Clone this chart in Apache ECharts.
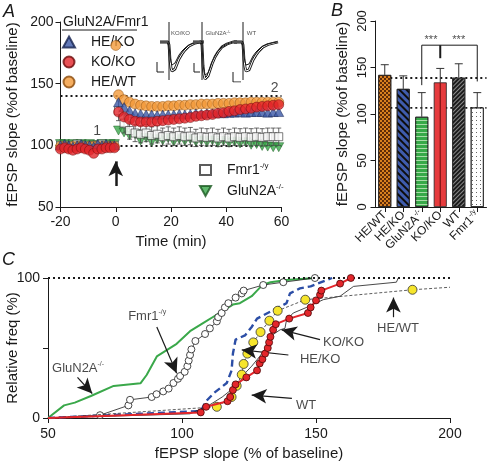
<!DOCTYPE html>
<html><head><meta charset="utf-8">
<script src="https://cdn.jsdelivr.net/npm/echarts@6/dist/echarts.min.js"></script>
<style>html,body{margin:0;padding:0;background:#fff}#c{width:487px;height:462px}</style>
</head><body><div id="c"></div>
<script>
// ---------- Panel A: time course ----------
const timeBase = [-20,-18.5,-17,-15.5,-14,-12.5,-11,-9.5,-8,-6.5,-5,-3.5,-2,-0.5];
const timePost = [1,3,5,7,9,11,13,15,17,19,21,23,25,27,29,31,33,35,37,39,41,43,45,47,49,51,53,55,57,59];
const gluBase = [101,101,100,101,100,101,100,101,100,100,101,100,101,101];
const gluPost = [112,110.5,108,109,104,106,103,105,104,106,103,105,103.5,105,103,104,102.5,104,102,103.5,102,103,101.5,102.5,100.5,101,99.5,99,98.5,98.5];
const fmrBase = [100,100,99,100,101,100,100,99,100,100,101,100,100,100];
const fmrPost = [128,118,112,110,109,110,108,109,107,108,107,108,107,107.5,106,107,106.5,107,106,107,106,107,106.5,107,106.5,107,106.5,107,107,107];
const fmrErrBase = [2,2,2,2,2,2,2,2,2,2,2,2,2,2];
const fmrErrPost = [8,8,7,7,7,7,7,7,7,7,7,7,7,7,7,7,7,7,7,7,7,7,7,7,7,7,7,7,7,7];
const heWtBase = [99,99,98,99,99,99,98,99,99,99,99,99,99,99];
const heWtStimTime = [0];
const heWtStim = [181];
const heWtPost = [141,137,135,133.5,132.5,132,131.5,131.5,131.5,132,132,132.5,132.5,133,133,133.5,133.5,133.5,134,134,134,134.5,134.5,134.5,135,135,135,135,135,135];
const heKoBase = [100,101,100,99,100,101,100,100,99,101,100,101,100,100];
const heKoPost = [135,131,128,126,125.5,125,125,124.5,125,125,125,125.5,125,125.5,126,125.5,126,126,126.5,126,126.5,126.5,127,126.5,127,127,127,126.5,127,127];
const koKoBase = [97,98,97,96,97,98,97,96,93.5,97,97,98,98,98];
const koKoPost = [127,123,121,119.5,119,119,119,119.5,120,120.5,121,121.5,122,122.5,123.5,124,124.5,125,126,126.5,127.5,128,129,129.5,130,131,131.5,132,132.5,133];
const refLinesA = [100,140];

// inset traces (relative time, amplitude)
const trT = [-9,-1,0,0.5,1,2,3,4,5,6,8,10,13,16,20,25,31,35];
const trKoPre  = [0,0,-2,-8,-14,-20,-23,-24,-23,-21,-17,-13,-9,-6,-3,-1,0,0];
const trKoPost = [0,0,-3,-10,-18,-26,-29,-30,-29,-27,-22,-17,-12,-8,-4,-1.5,0,0];
const trGluPre  = [0,0,-3,-12,-22,-30,-33,-34,-33,-31,-26,-20,-14,-9,-5,-2,0,0];
const trGluPost = [0,0,-3,-13,-24,-33,-37,-38,-37,-34,-28,-22,-15,-10,-5,-2,0,0];
const trWtPre  = [0,0,-2,-8,-14,-20,-23,-24,-24,-22,-18,-14,-10,-7,-4,-2,-0.5,0];
const trWtPost = [0,0,-3,-10,-18,-25,-29,-30,-30,-28,-23,-18,-13,-9,-5,-2.5,-1,0];

// ---------- Panel B: bars ----------
const barCats = ['HE/WT','HE/KO','GluN2A','KO/KO','WT','Fmr1'];
const barSup  = ['','','-/-','','','-/y'];
const barMeans = [142,127,97,134,139,107];
const barErrs  = [11,14,26,15,15,16];
const barRefLines = [138.7,106.5];

// ---------- Panel C: cumulative distributions ----------
const cdfGlu = [[50,0],[56,9],[60,11],[66,15.7],[74.5,22.9],[84.5,24.8],[86.8,30.7],[90.6,44],[98,53],[103,62],[108,68],[114,75],[119,81],[121.6,82],[126,87],[128,91],[130,95],[133,97],[139,98.6],[149.6,100]];
const cdfFmr = [[50,0],[69.4,2],[80,9],[80.6,13],[88.7,15],[90.5,17],[93,19],[95,21],[96.8,25],[98.5,28],[99.3,30],[101,33],[102,37],[102.5,41],[103,45],[103.5,49],[105,55],[108.6,60],[110.4,64],[113,69],[113.5,72],[114.8,75],[116,79],[117.3,82],[120,86],[122.3,89],[123,91],[130.3,95],[137.8,97],[149.6,100]];
const cdfHeKo = [[50,0],[107,5],[109,12],[112,18],[116.7,25],[118.5,34],[119,46],[120,56],[123.5,59],[126,65],[128,71],[134,77],[139,82],[140.3,89],[144,92.6],[148,94],[156,100]];
const cdfWt = [[50,0],[103,3],[110,9],[115,15],[121.6,25],[123.5,32],[126,37],[129,44],[131.6,51],[133.5,59],[136.6,63],[138.4,64],[139,70],[141.5,75],[146.5,79],[152.7,84.5],[159,87],[164,94],[180,97],[180.7,100]];
const cdfKoKo = [[50,0],[107,4],[109,8],[117,12],[118,15],[119,20],[120,24],[124,29],[128,34],[129,39],[130,42],[131,46],[132,50],[132.5,54],[133,58],[134,63],[135,67],[140,71],[147,75],[148,79],[150,84],[151.5,88],[152,91],[159,96],[163,100]];
const cdfHeWt = [[50,0],[113,8],[118.5,15],[120.4,23],[122.3,31],[123,38.6],[124.4,46],[126.6,54],[129.3,61.4],[132.6,69.5],[135.7,76.6],[146,84.5],[186,91.6],[200,93.4]];

const F = "'Liberation Sans', Arial, sans-serif";
const BLACK = '#1a1a1a';
const tri = 'path://M5,0 L10,9 L0,9 Z';
const triDown = 'path://M0,0 L10,0 L5,9 Z';
function pairs(t, v){ return t.map((x,i)=>[x, v[i]]); }
function ax(o){
  return Object.assign({
    type:'value', splitLine:{show:false}, nameMoveOverlap:false,
    axisLine:{show:true, onZero:false, lineStyle:{color:BLACK, width:1}},
    axisTick:{show:true, length:5, lineStyle:{color:BLACK, width:1}},
    axisLabel:{color:BLACK, fontSize:14, fontFamily:F},
    nameTextStyle:{color:BLACK, fontSize:15, fontFamily:F}
  }, o);
}
function hidden(grid, min, max){ return {type:'value', gridIndex:grid, min:min, max:max, show:false}; }
function grid(l, t, w, h){ return {left:l, top:t, width:w, height:h, containLabel:false, outerBoundsMode:'none'}; }
const supRich = { n:{fontSize:14, fontFamily:F, color:BLACK, lineHeight:16}, s:{fontSize:8, fontFamily:F, color:BLACK, lineHeight:8, verticalAlign:'top'} };

const chart = echarts.init(document.getElementById('c'));

function errA(name, t, v, e){
  return {type:'custom', name:name, xAxisIndex:0, yAxisIndex:0, z:3,
    data: t.map((x,i)=>[x, v[i], e[i]]),
    renderItem:function(p, api){
      const x=api.value(0), m=api.value(1), er=api.value(2);
      const a=api.coord([x,m-er]), b=api.coord([x,m+er]);
      return {type:'group', children:[
        {type:'line', shape:{x1:a[0],y1:a[1],x2:b[0],y2:b[1]}, style:{stroke:'#444', lineWidth:0.8}},
        {type:'line', shape:{x1:a[0]-2.5,y1:a[1],x2:a[0]+2.5,y2:a[1]}, style:{stroke:'#444', lineWidth:0.8}},
        {type:'line', shape:{x1:b[0]-2.5,y1:b[1],x2:b[0]+2.5,y2:b[1]}, style:{stroke:'#444', lineWidth:0.8}}
      ]};
    }};
}

function inset(k, pre, post, bar, lbl){
  const xi = 4+k, yi = 3+k;
  const base = {type:'line', xAxisIndex:xi, yAxisIndex:yi, symbol:'none', silent:true, animation:false};
  return [
    Object.assign({}, base, {data:pairs(trT, post), lineStyle:{color:BLACK, width:2.8}}),
    Object.assign({}, base, {data:pairs(trT, post), lineStyle:{color:'#fff', width:1}}),
    Object.assign({}, base, {data:pairs(trT, pre), lineStyle:{color:BLACK, width:1}}),
    Object.assign({}, base, {data:[[0,20],[0,-38]], lineStyle:{color:BLACK, width:1}}),
    Object.assign({}, base, {data:bar, lineStyle:{color:BLACK, width:1}}),
    {type:'scatter', xAxisIndex:xi, yAxisIndex:yi, symbolSize:0, silent:true, data:[lbl],
     label:{show:true, position:'inside', formatter:'{b}', fontSize:6, fontFamily:F, color:BLACK,
            rich:{s:{fontSize:4, fontFamily:F, verticalAlign:'top', lineHeight:4}}}}
  ];
}

const barStyles = [
  {color:'#d8801f', decal:{symbol:'rect', symbolSize:1, dashArrayX:[[2,2],[0,2,2,0]], dashArrayY:[2,0], color:'#5e2a08'}},
  {color:'#3f5cad', decal:{symbol:'rect', symbolSize:1, dashArrayX:[1,0], dashArrayY:[2,3], rotation:Math.PI/4, color:'#0d0d0d'}},
  {color:'#37a948', decal:{symbol:'rect', symbolSize:1, dashArrayX:[1,0], dashArrayY:[1,3], rotation:0, color:'#a9dca8'}},
  {color:'#e63b3d'},
  {color:'#1c1c1c', decal:{symbol:'rect', symbolSize:1, dashArrayX:[1,0], dashArrayY:[1,2], rotation:-Math.PI/4, color:'#8a8a8a'}},
  {color:'#ffffff', decal:{symbol:'rect', symbolSize:1, dashArrayX:[1,3], dashArrayY:[1,3], color:'#666'}}
];

const arrowLine = {lineStyle:{color:BLACK, width:1.2, type:'solid'}};
function arrow(a, b){ return [{coord:a, symbol:'none'}, {coord:b, symbol:'arrow', symbolSize:[11,15]}]; }

const option = {
  animation:false,
  textStyle:{fontFamily:F},
  grid:[
    grid(60.5, 22, 221, 185),
    grid(375.5, 21, 111, 186),
    grid(48, 278, 402, 140),
    grid(157, 20, 47, 62),
    grid(190, 20, 47, 62),
    grid(231, 20, 47, 62)
  ],
  xAxis:[
    ax({gridIndex:0, min:-20, max:60, interval:20, name:'Time (min)', nameLocation:'middle', nameGap:27, axisLabel:{color:BLACK, fontSize:14, fontFamily:F, margin:8}}),
    {type:'category', gridIndex:1, data:barCats, boundaryGap:true,
     axisLine:{show:true, lineStyle:{color:BLACK}}, axisTick:{show:true, alignWithLabel:true, length:5, lineStyle:{color:BLACK}},
     axisLabel:{rotate:45, margin:6, interval:0, formatter:function(v,i){ return '{n|'+v+'}' + (barSup[i] ? '{s|'+barSup[i]+'}' : ''); },
       rich:{n:{fontSize:12, fontFamily:F, color:BLACK, lineHeight:14}, s:{fontSize:7, fontFamily:F, color:BLACK, lineHeight:7, verticalAlign:'top'}}}},
    hidden(1, -0.5, 5.5),
    ax({gridIndex:2, min:50, max:200, interval:50, name:'fEPSP slope (% of baseline)', nameLocation:'middle', nameGap:28, axisLabel:{color:BLACK, fontSize:14, fontFamily:F, margin:9}}),
    hidden(3, -12, 35), hidden(4, -12, 35), hidden(5, -12, 35)
  ],
  yAxis:[
    ax({gridIndex:0, min:50, max:200, interval:50, name:'fEPSP slope (%of baseline)', nameLocation:'middle', nameGap:40, axisLabel:{color:BLACK, fontSize:14, fontFamily:F, margin:7}}),
    ax({gridIndex:1, min:0, max:200, interval:50, name:'fEPSP slope (%of baseline)', nameLocation:'middle', nameGap:25, axisLabel:{color:BLACK, fontSize:13, fontFamily:F, margin:7, rotate:90}}),
    ax({gridIndex:2, min:0, max:100, interval:50, name:'Relative freq (%)', nameLocation:'middle', nameGap:28, axisLabel:{color:BLACK, fontSize:14, fontFamily:F, margin:8, formatter:function(v){return v===50?'':String(v);}}}),
    hidden(3, -40, 22), hidden(4, -40, 22), hidden(5, -40, 22)
  ],
  legend:[
    {data:['HE/KO','KO/KO','HE/WT'], orient:'vertical', left:62, top:35, itemWidth:12, itemHeight:11, itemGap:6, padding:0,
     textStyle:{fontSize:14, fontFamily:F, color:BLACK, padding:[0,0,0,11], lineHeight:14}},
    {data:['Fmr1','GluN2A'], orient:'vertical', left:199, top:162, itemWidth:11, itemHeight:10, itemGap:6, padding:0,
     formatter:function(n){ return n==='Fmr1' ? '{n|Fmr1}{s|-/y}' : '{n|GluN2A}{s|-/-}'; },
     textStyle:{fontSize:14, fontFamily:F, color:BLACK, padding:[0,0,0,11], rich:supRich}}
  ],
  graphic:[
    {type:'text', left:3, top:3, style:{text:'A', font:'italic 18px '+F, fill:BLACK}},
    {type:'text', left:331, top:2, style:{text:'B', font:'italic 18px '+F, fill:BLACK}},
    {type:'text', left:2, top:251, style:{text:'C', font:'italic 18px '+F, fill:BLACK}},
    {type:'text', left:63, top:15, style:{text:'GluN2A/Fmr1', font:'14px '+F, fill:BLACK}},
    {type:'line', shape:{x1:62, y1:30, x2:137, y2:30}, style:{stroke:BLACK, lineWidth:1}}
  ],
  series:[
    // ---- Panel A ----
    {type:'scatter', name:'GluN2A', xAxisIndex:0, yAxisIndex:0, symbol:triDown, symbolSize:[10,9], z:2,
     itemStyle:{color:'#3aa84a', borderColor:'#1b5a22', borderWidth:0.6},
     data:pairs(timeBase,gluBase).concat(pairs(timePost,gluPost)),
     markLine:{silent:true, symbol:'none', label:{show:false}, z:1,
       lineStyle:{color:BLACK, type:[2,3], width:1.8}, data:refLinesA.map(v=>({yAxis:v}))}},
    errA('fmrErr', timeBase.concat(timePost), fmrBase.concat(fmrPost), fmrErrBase.concat(fmrErrPost)),
    {type:'scatter', name:'Fmr1', xAxisIndex:0, yAxisIndex:0, symbol:'rect', symbolSize:8, z:3,
     itemStyle:{color:'#fff', borderColor:'#333', borderWidth:0.8},
     data:pairs(timeBase,fmrBase).concat(pairs(timePost,fmrPost))},
    {type:'scatter', name:'HE/WT', xAxisIndex:0, yAxisIndex:0, symbol:'circle', symbolSize:10, z:4,
     itemStyle:{color:'#f39a3a', borderColor:'#8a4a0a', borderWidth:0.6},
     data:pairs(timeBase,heWtBase).concat(pairs(heWtStimTime,heWtStim)).concat(pairs(timePost,heWtPost))},
    {type:'scatter', name:'HE/KO', xAxisIndex:0, yAxisIndex:0, symbol:tri, symbolSize:[10,9], z:5,
     itemStyle:{color:'#3b57a6', borderColor:'#15224f', borderWidth:0.6},
     data:pairs(timeBase,heKoBase).concat(pairs(timePost,heKoPost))},
    {type:'scatter', name:'KO/KO', xAxisIndex:0, yAxisIndex:0, symbol:'circle', symbolSize:10, z:6,
     itemStyle:{color:'#e4252b', borderColor:'#6a0a0a', borderWidth:0.6},
     data:pairs(timeBase,koKoBase).concat(pairs(timePost,koKoPost))},
    {type:'scatter', name:'annA', xAxisIndex:0, yAxisIndex:0, symbolSize:0, silent:true, z:7,
     data:[{name:'1', value:[-6.7,111.5]}, {name:'2', value:[57.5,146]}],
     label:{show:true, position:'inside', formatter:'{b}', fontSize:14, fontFamily:F, color:BLACK},
     markLine:{silent:true, label:{show:false}, lineStyle:{color:BLACK, width:2.5, type:'solid'},
       data:[arrow([0,67],[0,87])]}},
    // ---- Panel B ----
    {type:'line', xAxisIndex:2, yAxisIndex:1, symbol:'none', silent:true, z:1,
     data:[[0.3,barRefLines[0]],[5.5,barRefLines[0]]], lineStyle:{color:BLACK, type:[2,3], width:1.8}},
    {type:'line', xAxisIndex:2, yAxisIndex:1, symbol:'none', silent:true, z:1,
     data:[[0.3,barRefLines[1]],[5.5,barRefLines[1]]], lineStyle:{color:BLACK, type:[2,3], width:1.8}},
    {type:'bar', name:'bars', xAxisIndex:1, yAxisIndex:1, barWidth:13, z:2,
     data:barMeans.map((m,i)=>({value:m, itemStyle:Object.assign({borderColor:'#222', borderWidth:0.8}, barStyles[i])}))},
    {type:'line', xAxisIndex:2, yAxisIndex:1, symbol:'none', silent:true, z:3,
     data:[[3,0],[3,barMeans[3]]], lineStyle:{color:'#7a1212', width:1.2}},
    {type:'custom', name:'barErr', xAxisIndex:1, yAxisIndex:1, z:3,
     data:barMeans.map((m,i)=>[i,m,barErrs[i]]),
     renderItem:function(p, api){
       const a=api.coord([api.value(0), api.value(1)]), b=api.coord([api.value(0), api.value(1)+api.value(2)]);
       return {type:'group', children:[
         {type:'line', shape:{x1:a[0],y1:a[1],x2:b[0],y2:b[1]}, style:{stroke:'#333', lineWidth:1}},
         {type:'line', shape:{x1:b[0]-4,y1:b[1],x2:b[0]+4,y2:b[1]}, style:{stroke:'#333', lineWidth:1}}
       ]};
     }},
    {type:'line', xAxisIndex:2, yAxisIndex:1, symbol:'none', silent:true, z:3,
     data:[[2,131],[2,174],[5,174],[5,135]], lineStyle:{color:BLACK, width:1}},
    {type:'line', xAxisIndex:2, yAxisIndex:1, symbol:'none', silent:true, z:3,
     data:[[3,174],[3,160]], lineStyle:{color:BLACK, width:2}},
    {type:'scatter', xAxisIndex:2, yAxisIndex:1, symbolSize:0, silent:true, z:4,
     data:[{name:'***', value:[2.5,180]}, {name:'***', value:[4,180]}],
     label:{show:true, position:'inside', formatter:'{b}', fontSize:11, fontFamily:F, color:BLACK}},
    // ---- Panel C ----
    {type:'line', name:'cGlu', xAxisIndex:3, yAxisIndex:2, showSymbol:false, symbol:'none', z:2,
     data:cdfGlu, lineStyle:{color:'#3aa84a', width:2},
     markLine:{silent:true, symbol:'none', label:{show:false}, lineStyle:{color:BLACK, type:[2,3], width:1.8}, data:[{yAxis:100}]}},
    {type:'line', name:'cFmr', xAxisIndex:3, yAxisIndex:2, symbol:'circle', symbolSize:7, z:3,
     data:cdfFmr.map((d,i)=> i===0 ? {value:d, symbol:'none'} : d),
     lineStyle:{color:BLACK, width:0.8}, itemStyle:{color:'#fff', borderColor:BLACK, borderWidth:0.8}},
    {type:'line', name:'cHeKo', xAxisIndex:3, yAxisIndex:2, symbol:'none', z:3,
     data:cdfHeKo, lineStyle:{color:'#2c4ea6', width:2.4, type:[7,4]}},
    {type:'line', name:'cWt', xAxisIndex:3, yAxisIndex:2, symbol:'none', z:3,
     data:cdfWt, lineStyle:{color:BLACK, width:0.8}},
    {type:'line', name:'cHeWt', xAxisIndex:3, yAxisIndex:2, symbol:'circle', symbolSize:9, z:4,
     data:cdfHeWt.map((d,i)=> (i===0 || i===cdfHeWt.length-1) ? {value:d, symbol:'none'} : d),
     lineStyle:{color:'#333', width:0.8, type:[3,2]}, itemStyle:{color:'#f6e52c', borderColor:'#333', borderWidth:0.8}},
    {type:'line', name:'cKoKo', xAxisIndex:3, yAxisIndex:2, symbol:'circle', symbolSize:7, z:5,
     data:cdfKoKo.map((d,i)=> i===0 ? {value:d, symbol:'none'} : d),
     lineStyle:{color:'#e3262b', width:2}, itemStyle:{color:'#e3262b', borderColor:'#4a0808', borderWidth:0.8}},
    {type:'scatter', name:'annC', xAxisIndex:3, yAxisIndex:2, symbolSize:0, silent:true, z:6,
     data:[{name:'{n|GluN2A}{s|-/-}', value:[51.5,35.7]}, {name:'{n|Fmr1}{s|-/y}', value:[79.9,72.9]},
           {name:'{n|KO/KO}', value:[152.6,54.3]}, {name:'{n|HE/KO}', value:[144,42.1]},
           {name:'{n|WT}', value:[142.5,9.3]}, {name:'{n|HE/WT}', value:[172.8,64.3]}],
     label:{show:true, position:'right', distance:0, formatter:'{b}', rich:{n:{fontSize:13, fontFamily:F, color:BLACK, lineHeight:15}, s:{fontSize:7, fontFamily:F, color:BLACK, lineHeight:7, verticalAlign:'top'}}},
     markLine:Object.assign({silent:true, label:{show:false}}, arrowLine, {
       data:[arrow([61,29],[66.5,17.5]), arrow([90.6,65],[98,32]), arrow([151.5,56],[137.2,63]),
             arrow([139.7,45],[122.3,48.6]), arrow([141,14],[126,16.4]), arrow([178.9,72],[178.9,86])]})}
  ]
};

// inset traces
option.series = option.series
  .concat(inset(0, trKoPre, trKoPost, [[-12,-20],[-12,-30],[-5,-30]], {name:'KO/KO', value:[11.5,9]}))
  .concat(inset(1, trGluPre, trGluPost, [[-8,-21],[-8,-30],[-2,-30]], {name:'GluN2A{s|-/-}', value:[16,9]}))
  .concat(inset(2, trWtPre, trWtPost, [[-10,-30],[-10,-40],[-2,-40]], {name:'WT', value:[8.5,9]}));

chart.setOption(option);
</script></body></html>
